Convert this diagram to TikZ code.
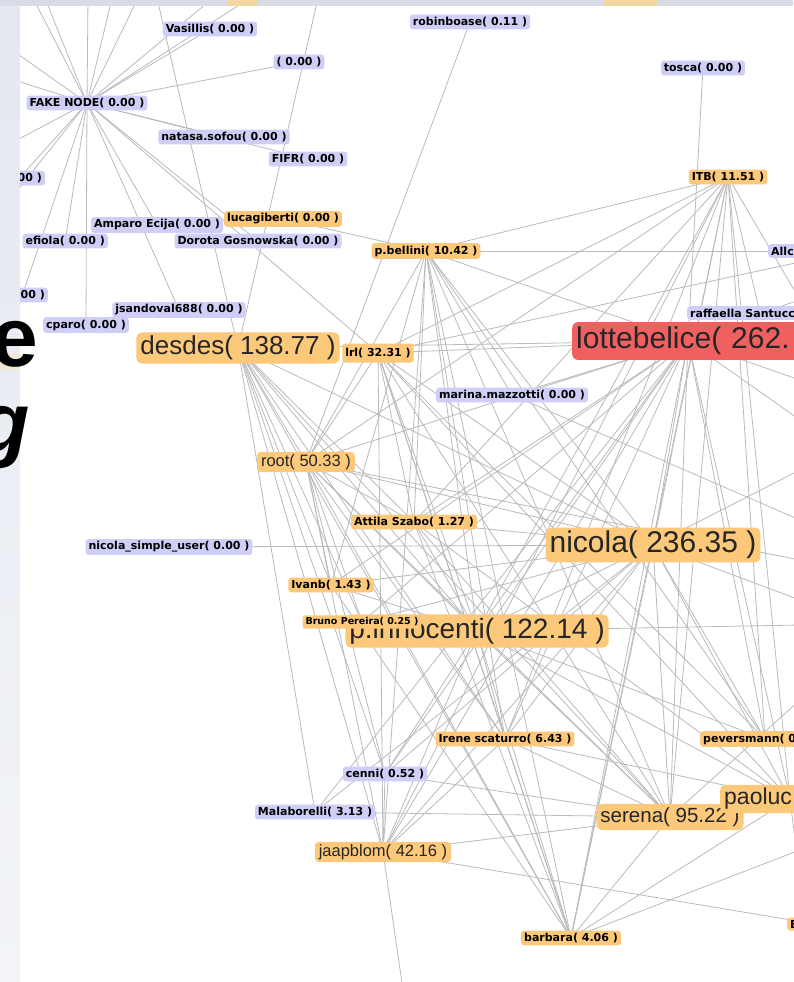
\documentclass[tikz,border=0pt]{standalone}
\usepackage{fontspec}
\setmainfont{Liberation Sans}
\newfontfamily\lblfont{DejaVu Sans}
\definecolor{lav}{RGB}{206,206,246}
\definecolor{orng}{RGB}{252,200,122}
\definecolor{rednode}{RGB}{240,96,96}
\definecolor{edgegray}{RGB}{186,186,190}
\definecolor{slidebg}{RGB}{228,232,240}
\definecolor{slidebg2}{RGB}{242,244,248}
\definecolor{slidetop}{RGB}{216,220,230}
\definecolor{slideor}{RGB}{244,214,160}
\pgfdeclarelayer{bgl}
\pgfdeclarelayer{edgel}
\pgfdeclarelayer{fgl}
\pgfsetlayers{bgl,edgel,main,fgl}
\begin{document}
\begin{tikzpicture}[x=1pt,y=-1pt,
  sm/.style={fill=lav, rounded corners=3pt, inner xsep=3pt, inner ysep=2.5pt, text=black,
    font=\lblfont\bfseries\fontsize{11}{13}\selectfont},
  osm/.style={sm, fill=orng},
  omed/.style={fill=orng, rounded corners=4pt, inner xsep=4pt, inner ysep=2.5pt, text=black!85,
    font=\fontsize{16.5}{18}\selectfont},
  obig/.style={fill=orng, rounded corners=6pt, inner xsep=4pt, inner ysep=3.5pt, text=black!85,
    font=\fontsize{#1}{#1}\selectfont},
  lnk/.style={draw=edgegray, line width=0.8pt}]
\useasboundingbox (0,0) rectangle (793,982);
\begin{pgfonlayer}{bgl}
  \fill[white] (0,0) rectangle (793,982);
\end{pgfonlayer}
% ---- nodes
\node[sm] (vas) at (210,29) {Vasillis( 0.00 )};
\node[sm] (zero) at (299,62) {( 0.00 )};
\node[sm] (fake) at (87,103) {FAKE NODE( 0.00 )};
\node[sm] (natasa) at (224,137) {natasa.sofou( 0.00 )};
\node[sm] (fifr) at (308,159) {FIFR( 0.00 )};
\node[sm,anchor=east] (oo1) at (45,178) {( 0.00 )};
\node[sm] (amparo) at (157,225) {Amparo Ecija( 0.00 )};
\node[osm] (luca) at (283,219) {lucagiberti( 0.00 )};
\node[sm,anchor=east] (wfiola) at (108,241) {efiola( 0.00 )};
\node[sm] (dorota) at (258,241) {Dorota Gosnowska( 0.00 )};
\node[osm] (bellini) at (426,251) {p.bellini( 10.42 )};
\node[sm,anchor=east] (oo2) at (48,295) {( 0.00 )};
\node[sm] (jsand) at (179,310) {jsandoval688( 0.00 )};
\node[sm] (cparo) at (86,325) {cparo( 0.00 )};
\node[obig=26] (desdes) at (238,348) {desdes( 138.77 )};
\node[osm, minimum height=19pt] (lrl) at (378,353) {lrl( 32.31 )};
\node[sm,anchor=west,text width=120pt,align=left] (raff) at (687,313) {raffaella Santucci};
\node[obig=30, fill=rednode, anchor=west, text width=262pt, align=left, inner ysep=5pt] (lotte) at (572,341) {lottebelice( 262.};
\node[sm,anchor=west,text width=40pt,align=left] (allc) at (768,251) {Allc};
\node[sm] (marina) at (512,395) {marina.mazzotti( 0.00 )};
\node[osm] (itb) at (728,177) {ITB( 11.51 )};
\node[sm] (tosca) at (703,68) {tosca( 0.00 )};
\node[sm] (robin) at (470,22) {robinboase( 0.11 )};
\node[omed] (root) at (306,462) {root( 50.33 )};
\node[osm] (attila) at (414,522) {Attila Szabo( 1.27 )};
\node[sm] (nsu) at (169,547) {nicola\_simple\_user( 0.00 )};
\node[obig=30] (nicola) at (653,545) {nicola( 236.35 )};
\node[osm] (ivanb) at (331,585) {Ivanb( 1.43 )};
\node[obig=28] (innoc) at (477,631) {p.innocenti( 122.14 )};
\node[osm, font=\lblfont\bfseries\fontsize{9.5}{11}\selectfont] (bruno) at (362,622) {Bruno Pereira( 0.25 )};
\node[osm] (irene) at (505,739) {Irene scaturro( 6.43 )};
\node[osm,anchor=west,text width=110pt,align=left] (pever) at (700,739) {peversmann( 0};
\node[sm] (cenni) at (385,774) {cenni( 0.52 )};
\node[sm] (mala) at (315,812) {Malaborelli( 3.13 )};
\node[omed] (jaap) at (383,852) {jaapblom( 42.16 )};
\node[obig=20.5] (serena) at (670,817) {serena( 95.22 )};
\node[obig=23, anchor=west, text width=100pt, align=left] (paoluc) at (720,799) {paoluc};
\node[osm] (barbara) at (571,938) {barbara( 4.06 )};
\node[osm,anchor=west,text width=30pt,align=left] (eee) at (787,924) {E};
% ---- edge anchors for clipped nodes and free ends
\coordinate (lotteC) at (688,341);
\coordinate (raffC) at (760,313);
\coordinate (allcC) at (810,251);
\coordinate (peverC) at (765,739);
\coordinate (paolucC) at (790,799);
\coordinate (eC) at (815,924);
\coordinate (t1) at (33,-2);  \coordinate (t2) at (45,-2);
\coordinate (t3) at (88,-2);  \coordinate (t4) at (112,-2);
\coordinate (t5) at (138,-2); \coordinate (t6) at (157,-2);
\coordinate (t7) at (213,-2); \coordinate (t8) at (318,-2);
\coordinate (t9) at (250,-2);
\coordinate (l1) at (-2,40);  \coordinate (l2) at (-2,75);
\coordinate (l3) at (-2,150); \coordinate (l4) at (-2,215);
\coordinate (r0) at (800,262); \coordinate (r1) at (800,300);
\coordinate (r2) at (800,420); \coordinate (r3) at (800,470);
\coordinate (r4) at (800,600); \coordinate (r5) at (800,625);
\coordinate (r6) at (800,560); \coordinate (r7) at (800,700);
\coordinate (r8) at (800,850); \coordinate (r9) at (800,880);
\coordinate (r10) at (800,380); \coordinate (r11) at (800,520);
\coordinate (b1) at (403,990);
% ---- connectors
\begin{pgfonlayer}{edgel}
\foreach \a/\b in {fake/t1,fake/t2,fake/t3,fake/t4,fake/t5,fake/t7,fake/t9,fake/l1,fake/l2,fake/l3,fake/l4,
  fake/oo1,fake/oo2,fake/wfiola,fake/cparo,fake/amparo,fake/jsand,fake/dorota,fake/lrl,fake/natasa,
  fake/fifr,fake/zero,fake/vas,
  t6/desdes,t8/desdes,robin/root,tosca/lotteC,luca/bellini,
  desdes/lotteC,lrl/lotteC,desdes/root,desdes/mala,desdes/jaap,desdes/cenni,desdes/attila,desdes/innoc,
  desdes/nicola,desdes/serena,desdes/barbara,desdes/irene,desdes/ivanb,desdes/bruno,
  lrl/root,lrl/attila,lrl/nicola,lrl/innoc,lrl/serena,lrl/irene,lrl/jaap,lrl/barbara,lrl/itb,lrl/peverC,
  lrl/paolucC,lrl/r0,
  bellini/lotteC,bellini/nicola,bellini/serena,bellini/root,bellini/attila,bellini/ivanb,bellini/innoc,
  bellini/jaap,bellini/itb,bellini/barbara,bellini/irene,bellini/peverC,bellini/allcC,bellini/marina,
  itb/nicola,itb/serena,itb/paolucC,itb/barbara,itb/innoc,itb/attila,itb/irene,itb/peverC,itb/jaap,
  itb/r1,itb/root,itb/raffC,
  lotteC/nicola,lotteC/serena,lotteC/paolucC,lotteC/innoc,lotteC/root,lotteC/attila,lotteC/ivanb,
  lotteC/bruno,lotteC/irene,lotteC/jaap,lotteC/barbara,lotteC/cenni,lotteC/mala,lotteC/peverC,
  lotteC/marina,lotteC/r2,raffC/r1,lotteC/r10,marina/r11,
  nicola/nsu,nicola/root,nicola/attila,nicola/ivanb,nicola/bruno,nicola/innoc,nicola/irene,nicola/serena,
  nicola/paolucC,nicola/jaap,nicola/barbara,nicola/cenni,nicola/mala,nicola/r3,nicola/r4,nicola/peverC,
  innoc/root,innoc/attila,innoc/ivanb,innoc/irene,innoc/serena,innoc/paolucC,innoc/jaap,innoc/barbara,
  innoc/cenni,innoc/r5,innoc/peverC,
  root/attila,root/ivanb,root/bruno,root/serena,root/jaap,root/cenni,root/barbara,root/irene,root/r6,
  serena/jaap,serena/barbara,serena/irene,serena/paolucC,serena/cenni,serena/mala,serena/r7,serena/attila,
  jaap/eC,jaap/b1,jaap/cenni,jaap/irene,
  barbara/paolucC,barbara/irene,barbara/ivanb,barbara/attila,barbara/r8,
  paolucC/irene,paolucC/attila,paolucC/r9}
  \draw[lnk] (\a.center) -- (\b.center);
\end{pgfonlayer}
% ---- slide background around the picture
\begin{pgfonlayer}{fgl}
  \shade[top color=slidebg, bottom color=slidebg2] (0,0) rectangle (20,982);
  \fill[slidetop] (0,0) rectangle (793,6);
  \fill[slideor] (228,0) rectangle (258,6);
  \fill[slideor] (604,0) rectangle (657,6);
  \fill[slideor!60, opacity=0.7] (0,354) rectangle (20,370);
  \node[anchor=east, inner sep=0pt, font=\bfseries\fontsize{84}{84}\selectfont] (bige) at (38,344) {e};
  \node[anchor=east, inner sep=0pt, font=\bfseries\itshape\fontsize{84}{84}\selectfont] (bigg) at (30,438) {g};
\end{pgfonlayer}
\end{tikzpicture}
\end{document}
